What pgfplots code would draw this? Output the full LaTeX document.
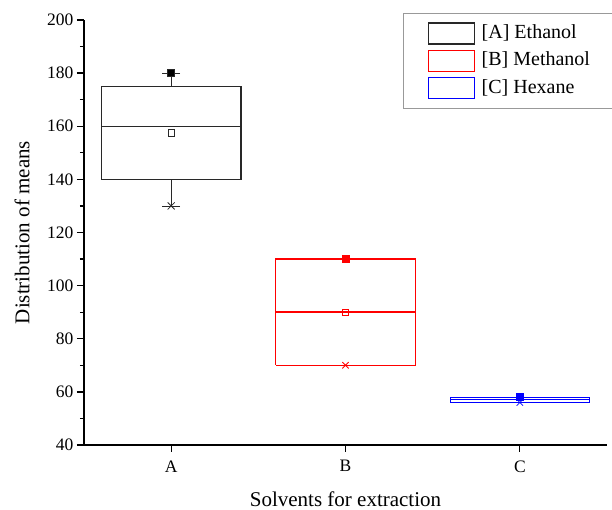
\documentclass[border=0pt]{standalone}
\usepackage{fontspec}
\setmainfont{Liberation Serif}
\usepackage{pgfplots}
\pgfplotsset{compat=1.18}
\definecolor{boxA}{RGB}{40,40,40}
\definecolor{boxB}{RGB}{255,0,0}
\definecolor{boxC}{RGB}{0,0,255}
\begin{document}
\begin{tikzpicture}
\useasboundingbox (-84pt,-65pt) rectangle (528pt,445pt);
\begin{axis}[
  at={(0,0)}, anchor=south west,
  scale only axis, width=523pt, height=425pt,
  xmin=0.5, xmax=3.5, ymin=40, ymax=200,
  axis lines=left,
  axis line style={-, line width=1.3pt, black},
  xtick={1,2,3}, xticklabels={A,B,C},
  ytick={40,60,...,200},
  minor ytick={50,70,...,190},
  tick align=outside,
  major tick length=7pt, minor tick length=4pt,
  every tick/.style={line width=1.3pt, black},
  tick label style={font=\fontsize{17.5}{21}\selectfont},
  xticklabel style={yshift=-5pt},
  /pgf/number format/assume math mode=true,
  xlabel={Solvents for extraction},
  ylabel={Distribution of means},
  every axis x label/.style={at={(axis description cs:0.5,-0.127)}, anchor=center, font=\fontsize{21}{25}\selectfont},
  every axis y label/.style={at={(axis description cs:-0.1185,0.5)}, anchor=center, rotate=90, font=\fontsize{21}{25}\selectfont},
  legend style={
    at={(0.61,1.0165)}, anchor=north west,
    draw=gray!80, line width=1pt,
    inner xsep=24pt, inner ysep=9pt,
    row sep=5.2pt, column sep=7pt,
    font=\fontsize{20}{24}\selectfont,
    nodes={inner sep=0pt, text height=14pt, text depth=4pt},
  },
  legend cell align=left,
  legend image code/.code={\draw[line width=1.2pt] (0pt,-10.5pt) rectangle (46pt,10.5pt);},
]
% Box A
\addplot[forget plot, boxA, mark=none, line width=1.3pt] table {
x y
0.6 140
1.4 140
1.4 175
0.6 175
0.6 140
};
\addplot[forget plot, boxA, mark=none, line width=1.3pt] table {
x y
0.6 160
1.4 160
};
\addplot[forget plot, boxA, mark=none, line width=1.3pt] table {
x y
1 175
1 180
};
\addplot[forget plot, boxA, mark=none, line width=1.3pt] table {
x y
1 140
1 130
};
% Box B
\addplot[forget plot, boxB, mark=none, line width=1.4pt] table {
x y
1.6 70
2.4 70
2.4 110
1.6 110
1.6 70
};
\addplot[forget plot, boxB, mark=none, line width=1.4pt] table {
x y
1.6 90
2.4 90
};
% Box C
\addplot[forget plot, boxC, mark=none, line width=1pt] table {
x y
2.6 56.1
3.4 56.1
3.4 58.0
2.6 58.0
2.6 56.1
};
\addplot[forget plot, boxC, mark=none, line width=1pt] table {
x y
2.6 57.05
3.4 57.05
};
% A markers
\addplot[forget plot, only marks, mark=x, mark size=5pt, color=boxA, line width=0.8pt] coordinates {(1,180) (1,130)};
\addplot[forget plot, only marks, mark=-, mark size=9pt, color=boxA, line width=0.8pt] coordinates {(1,180) (1,130)};
\addplot[forget plot, only marks, mark=square*, mark size=3.5pt, color=boxA, mark options={fill=black}] coordinates {(1,180)};
\addplot[forget plot, only marks, mark=square, mark size=3.2pt, color=boxA, line width=0.6pt] coordinates {(1,157.5)};
% B markers
\addplot[forget plot, only marks, mark=x, mark size=4.5pt, color=boxB, line width=0.8pt] coordinates {(2,70)};
\addplot[forget plot, only marks, mark=square*, mark size=3.5pt, color=boxB] coordinates {(2,110)};
\addplot[forget plot, only marks, mark=square, mark size=3.2pt, color=boxB, line width=0.6pt] coordinates {(2,90)};
% C markers
\addplot[forget plot, only marks, mark=x, mark size=4.5pt, color=boxC, line width=0.8pt] coordinates {(3,56)};
\addplot[forget plot, only marks, mark=square*, mark size=3.5pt, color=boxC] coordinates {(3,58)};
% legend
\addlegendimage{color=boxA}
\addlegendentry{[A] Ethanol}
\addlegendimage{color=boxB}
\addlegendentry{[B] Methanol}
\addlegendimage{color=boxC}
\addlegendentry{[C] Hexane}
\end{axis}
\end{tikzpicture}
\end{document}
